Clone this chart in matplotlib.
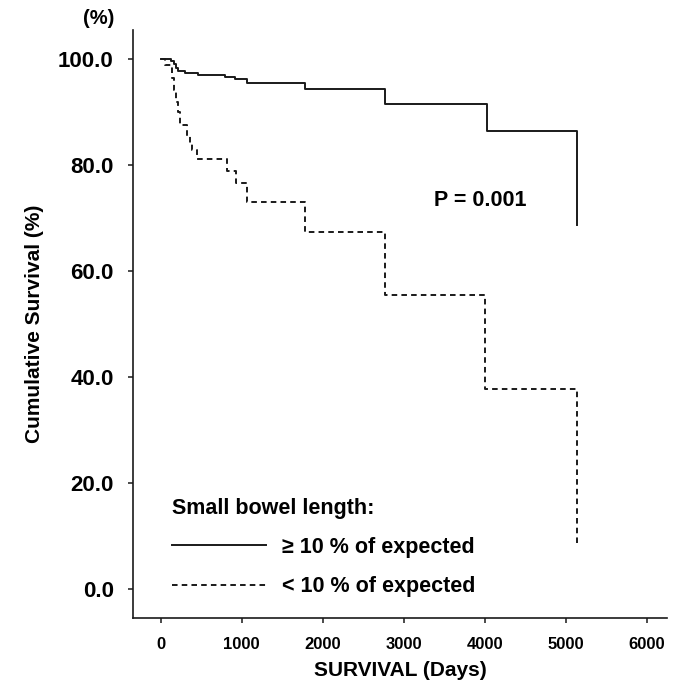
import matplotlib
matplotlib.use("Agg")
import matplotlib.pyplot as plt

plt.rcParams['font.family'] = ['Liberation Sans', 'DejaVu Sans']
plt.rcParams['font.weight'] = 'bold'
plt.rcParams['axes.labelweight'] = 'bold'
plt.rcParams['lines.scale_dashes'] = False

# Kaplan-Meier steps (days, cumulative survival in %)
days_long = [0, 125, 165, 190, 215, 300, 460, 795, 920, 1060, 1784, 2772, 4030, 5140]
surv_long = [100, 99.7, 99.0, 98.3, 97.8, 97.4, 97.0, 96.7, 96.2, 95.5, 94.3, 91.6, 86.5, 68.7]

days_short = [0, 50, 140, 170, 195, 215, 240, 325, 365, 390, 450, 817, 932, 1064,
              1784, 2772, 4010, 5144]
surv_short = [100, 98.9, 96.5, 94.2, 92.0, 90.0, 87.6, 85.4, 84.1, 82.9, 81.1, 78.8,
              76.6, 73.0, 67.4, 55.5, 37.8, 8.3]

x_ticks = [0, 1000, 2000, 3000, 4000, 5000, 6000]
y_ticks = [0, 20, 40, 60, 80, 100]
series_labels = ['\u2265 10 % of expected', '< 10 % of expected']
legend_title = 'Small bowel length:'
p_value = 'P = 0.001'

ink = '#1a1a1a'
W, H = 673, 688

fig = plt.figure(figsize=(W / 100, H / 100), dpi=100)
ax = fig.add_axes([133 / W, 1 - 618 / H, (667 - 133) / W, (618 - 30) / H])

ax.step(days_long, surv_long, where='post', color=ink, lw=1.4, label=series_labels[0])
ax.step(days_short, surv_short, where='post', color=ink, lw=1.4,
        dashes=(4.0, 3.0), label=series_labels[1])

ax.set_xlim(-342, 6251)
ax.set_ylim(-5.5, 105.5)

ax.set_xticks(x_ticks)
ax.set_xticklabels([str(v) for v in x_ticks], fontsize=12)
ax.set_yticks(y_ticks)
ax.set_yticklabels([f'{v:.1f}' for v in y_ticks], fontsize=16)
ax.tick_params(axis='both', direction='out', length=3.8, width=1.1, color=ink)
ax.tick_params(axis='y', pad=10)
ax.tick_params(axis='x', pad=10)

for side in ['top', 'right']:
    ax.spines[side].set_visible(False)
for side in ['left', 'bottom']:
    ax.spines[side].set_linewidth(1.2)
    ax.spines[side].set_color(ink)

ax.set_xlabel('SURVIVAL (Days)', fontsize=15, labelpad=6)
ax.set_ylabel('Cumulative Survival (%)', fontsize=15, labelpad=10)

ax.text(3942, 73.4, p_value, ha='center', va='center', fontsize=15.5)
fig.text(114 / W, 1 - 19 / H, '(%)', ha='right', va='center', fontsize=14.5)

ax.legend(title=legend_title, loc='upper left',
          bbox_to_anchor=(163 / W, 1 - 489 / H), bbox_transform=fig.transFigure,
          frameon=False, fontsize=15.5, title_fontsize=15.5, handlelength=4.4,
          handletextpad=0.75, labelspacing=0.85, alignment='left',
          borderaxespad=0, borderpad=0.4)

fig.savefig('out.png', dpi=100)
